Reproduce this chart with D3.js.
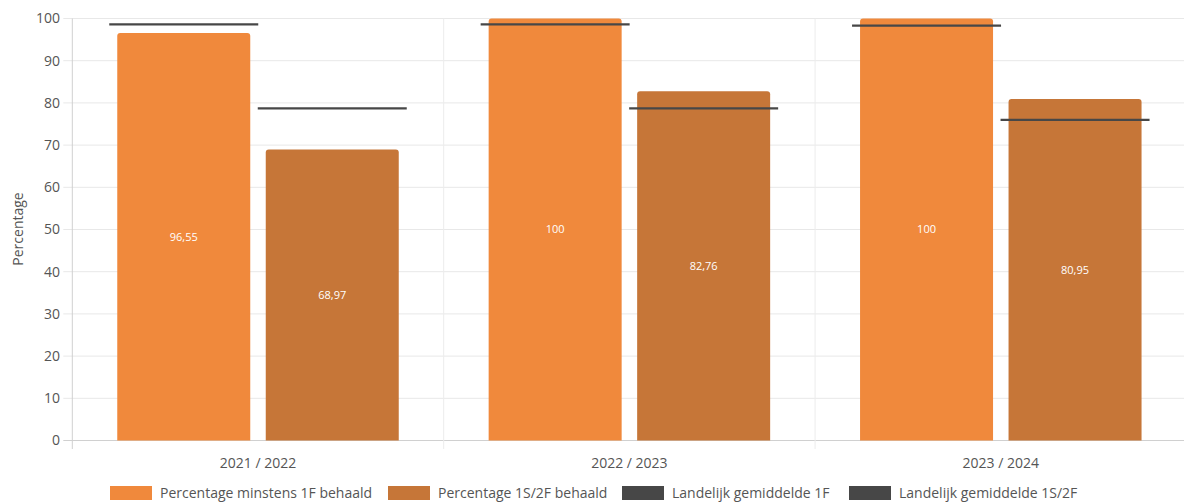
<!DOCTYPE html>
<html><head><meta charset="utf-8">
<script src="https://cdn.jsdelivr.net/npm/d3@7"></script>
<style>
html,body{margin:0;padding:0;background:#fff;}
svg{display:block;font-family:"Open Sans",sans-serif;}
</style></head>
<body><svg id="c" width="1184" height="503"></svg>
<script>
const categories = ["2021 / 2022", "2022 / 2023", "2023 / 2024"];
const pct1F = [96.55, 100, 100];
const pct2F = [68.97, 82.76, 80.95];
const avg1F = [98.6, 98.6, 98.3];
const avg2F = [78.7, 78.7, 76.0];
const yTicks = [0,10,20,30,40,50,60,70,80,90,100];
const seriesNames = ["Percentage minstens 1F behaald","Percentage 1S/2F behaald","Landelijk gemiddelde 1F","Landelijk gemiddelde 1S/2F"];
const colors = ["#F0893C","#C67638","#474747","#474747"];

const svg = d3.select("#c");
const pL = 72.3, pR = 1186.5, pT = 18.5, pB = 440.5;
const x = d3.scaleBand().domain(categories).range([pL, pR]).paddingInner(0).paddingOuter(0);
const y = d3.scaleLinear().domain([0,100]).range([pB, pT]);

// gridlines
const g = svg.append("g");
g.selectAll("line.h").data(yTicks).join("line")
  .attr("x1", pL-9).attr("x2", pR).attr("y1", d=>y(d)).attr("y2", d=>y(d))
  .attr("stroke", d=> d===0 ? "#d0d0d0" : "#e8e8e8").attr("stroke-width",1);
const seps = categories.map(c=>x(c)).concat([pR]);
g.selectAll("line.v").data(seps).join("line")
  .attr("x1", d=>d).attr("x2", d=>d).attr("y1", pT).attr("y2", pB+8.5)
  .attr("stroke", (d,i)=> i===0 ? "#d0d0d0" : "#ececec").attr("stroke-width",1);

// y axis labels
svg.append("g").selectAll("text").data(yTicks).join("text")
  .attr("x", 60).attr("y", d=>y(d)).attr("dy","0.35em").attr("text-anchor","end")
  .attr("font-size",14).attr("fill","#555").text(d=>d);
svg.append("text").attr("transform","translate(23,229) rotate(-90)")
  .attr("text-anchor","middle").attr("font-size",14).attr("fill","#555").text("Percentage");

// x labels
svg.append("g").selectAll("text").data(categories).join("text")
  .attr("x", d=>x(d)+x.bandwidth()/2).attr("y", 468).attr("text-anchor","middle")
  .attr("font-size",14).attr("fill","#555").text(d=>d);

// bars
const barW = 133, gap = 15.5;
function barX(c, k){ const cx = x(c)+x.bandwidth()/2; return k===0 ? cx - gap/2 - barW : cx + gap/2; }
function roundTop(x0, y0, w, h, r){
  return `M${x0},${y0+h}V${y0+r}Q${x0},${y0} ${x0+r},${y0}H${x0+w-r}Q${x0+w},${y0} ${x0+w},${y0+r}V${y0+h}Z`;
}
[pct1F, pct2F].forEach((vals,k)=>{
  const bg = svg.append("g");
  bg.selectAll("path").data(vals).join("path")
    .attr("d",(d,i)=>roundTop(barX(categories[i],k), y(d), barW, pB - y(d), 3))
    .attr("fill", colors[k]);
  bg.selectAll("text").data(vals).join("text")
    .attr("x",(d,i)=>barX(categories[i],k)+barW/2).attr("y", d=>(y(d)+pB)/2)
    .attr("dy","0.35em").attr("text-anchor","middle").attr("font-size",11).attr("fill","#fff")
    .text(d=>d3.format(".2~f")(d).replace(".",","));
});

// average lines
const lineW = 149;
[avg1F, avg2F].forEach((vals,k)=>{
  svg.append("g").selectAll("line").data(vals).join("line")
    .attr("x1",(d,i)=>barX(categories[i],k)+barW/2-lineW/2)
    .attr("x2",(d,i)=>barX(categories[i],k)+barW/2+lineW/2)
    .attr("y1",d=>y(d)).attr("y2",d=>y(d))
    .attr("stroke", colors[2+k]).attr("stroke-width",2.2);
});

// legend
const legX = [110, 388, 622, 849];
const lg = svg.append("g");
seriesNames.forEach((n,i)=>{
  lg.append("rect").attr("x",legX[i]).attr("y",486).attr("width",42).attr("height",14).attr("fill",colors[i]);
  lg.append("text").attr("x",legX[i]+50).attr("y",493).attr("dy","0.35em")
    .attr("font-size",14).attr("fill","#555").text(n);
});
</script></body></html>
